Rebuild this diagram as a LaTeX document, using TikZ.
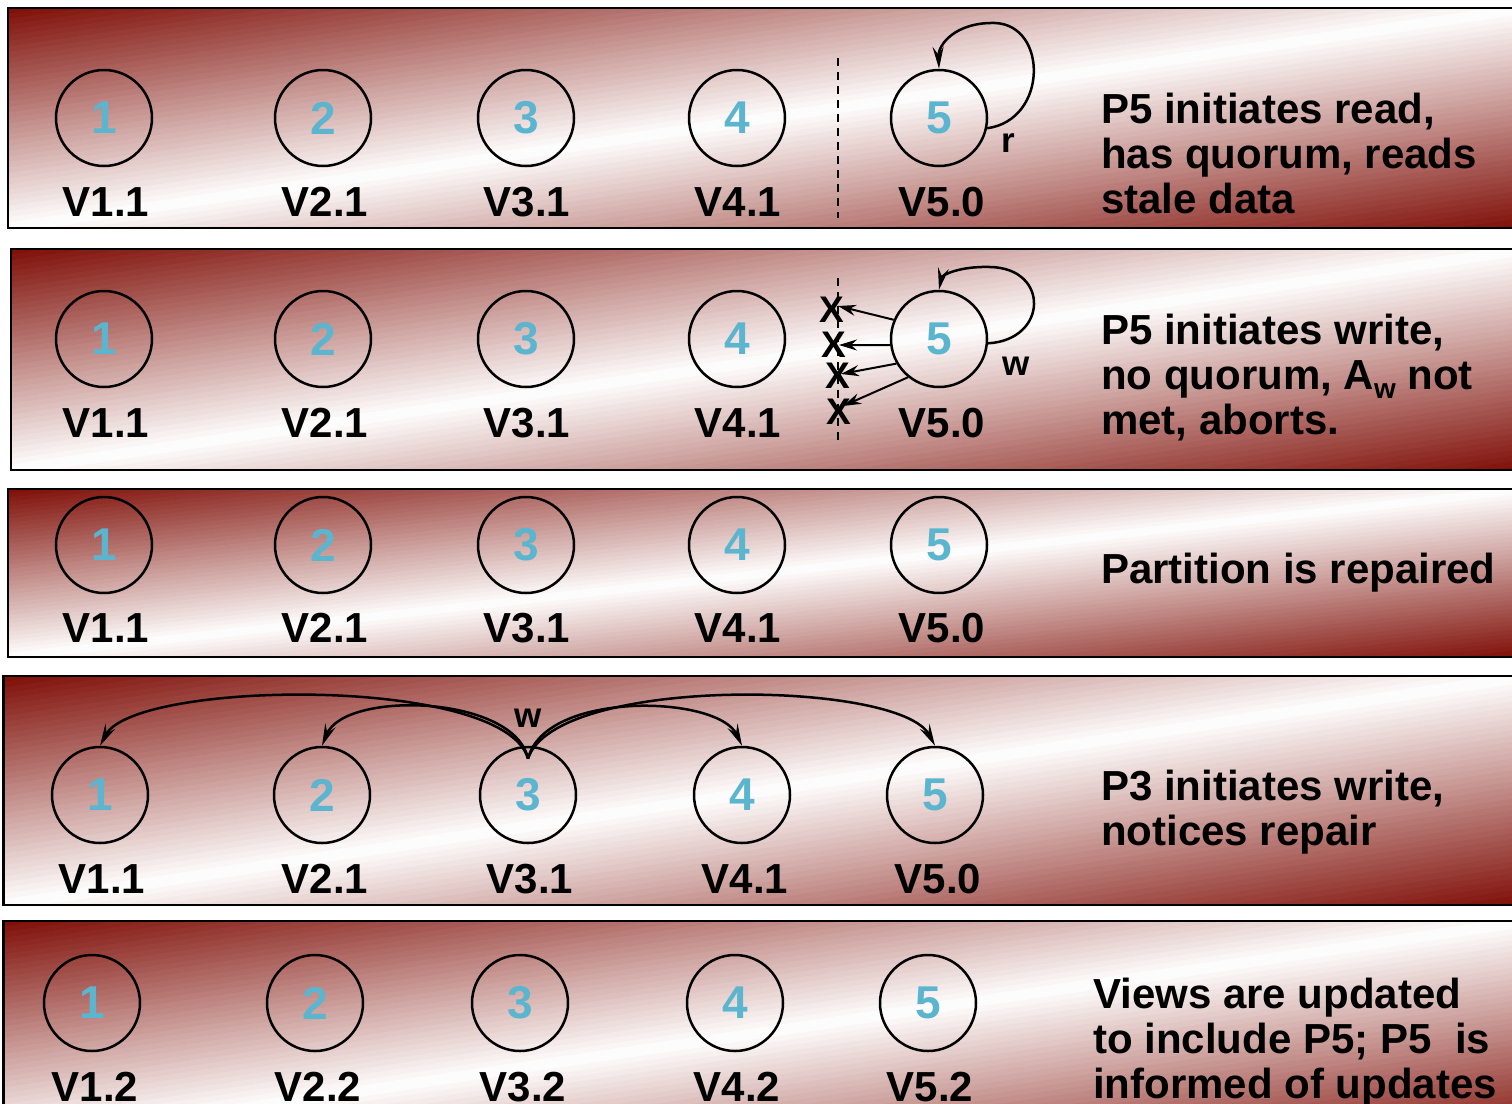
\documentclass[tikz,border=0pt]{standalone}
\usepackage{fontspec}
\setmainfont{Liberation Sans}
\usetikzlibrary{arrows.meta}
\definecolor{dred}{RGB}{126,14,6}
\definecolor{numblue}{RGB}{92,181,207}
\newcommand\numfont{\fontsize{46}{46}\selectfont\bfseries}
\newcommand\labfont{\fontsize{42}{42}\selectfont\bfseries}
\newcommand\capfont{\fontsize{42}{45}\selectfont\bfseries}
\newcommand\edgefont{\fontsize{35}{35}\selectfont\bfseries}
\newcommand\xfont{\fontsize{37}{37}\selectfont\bfseries}
% A framed band: dark red in the upper-left and lower-right corners,
% white along the diagonal from lower-left to upper-right.
% Arguments: left, top, right, bottom.
\newcommand\gradpanel[4]{%
  \begin{scope}
    \clip (#1,#2) rectangle (#3,#4);
    \foreach \k in {0,...,79} {
      \pgfmathsetmacro\sa{\k/40}
      \pgfmathsetmacro\sb{(\k+1.4)/40}
      \pgfmathsetmacro\mix{abs(1-(\k+0.5)/40)*100}
      \fill[dred!\mix!white]
        ({#1+(\sa+1)*(#3-#1)},{#2-(#4-#2)}) --
        ({#1+(\sb+1)*(#3-#1)},{#2-(#4-#2)}) --
        ({#1+(\sb-2)*(#3-#1)},{#2+2*(#4-#2)}) --
        ({#1+(\sa-2)*(#3-#1)},{#2+2*(#4-#2)}) -- cycle;
    }
  \end{scope}
  \draw[line width=2.5pt] (#1,#2) rectangle (#3,#4);
}
% digit inside a process circle, set a little below the centre
\newcommand\pid[1]{\raisebox{-2pt}{#1}}
\begin{document}
\begin{tikzpicture}[x=1pt,y=-1pt,
  proc/.style={circle, draw, line width=2.5pt, minimum size=96pt, inner sep=0pt,
    text=numblue, font=\numfont},
  vlab/.style={anchor=base, font=\labfont, inner sep=0pt},
  caption/.style={anchor=base west, align=left, font=\capfont, inner sep=0pt},
  msg/.style={line width=2.5pt, -{Stealth[length=22pt,width=11pt,inset=8pt]}},
  lost/.style={line width=2pt, -{Stealth[length=18pt,width=11pt,inset=6pt]}},
  cut/.style={line width=2pt, dash pattern=on 8pt off 6pt},
  elab/.style={font=\edgefont, inner sep=0pt},
  xmark/.style={font=\xfont, inner sep=0pt}
]
\useasboundingbox (0,0) rectangle (1512,1103);

% ---------- background bands ----------
\gradpanel{8}{8}{1530}{228}
\gradpanel{11}{249}{1530}{470}
\gradpanel{8}{489}{1530}{657}
\gradpanel{3.5}{676}{1530}{905}
\gradpanel{3.5}{921}{1530}{1143}

% ---------- row 1: stale read ----------
\foreach \i/\x in {1/104,2/323,3/526,4/737,5/939}
  \node[proc] (a\i) at (\x,118) {\pid{\i}};
\foreach \i/\x/\v in {1/106/1,2/325/1,3/527/1,4/738/1,5/942/0}
  \node[vlab] (va\i) at (\x,216) {V\i.\v};
\draw[cut] (838,58) -- (838,218);
\draw[msg] (a5.-12) .. controls (1048,120) and (1048,25) .. (995,23)
  .. controls (955,22) and (938,45) .. (a5.north);
\node[elab] (ra) at (1008,143) {r};
\node[caption] (ca) at (1101,213) {P5 initiates read,\\has quorum, reads\\stale data};

% ---------- row 2: failed write ----------
\foreach \i/\x in {1/104,2/323,3/526,4/737,5/939}
  \node[proc] (b\i) at (\x,339) {\pid{\i}};
\foreach \i/\x/\v in {1/106/1,2/325/1,3/527/1,4/738/1,5/942/0}
  \node[vlab] (vb\i) at (\x,437) {V\i.\v};
\draw[cut] (838,278) -- (838,440);
\node[xmark] (x1) at (832,310) {X};
\node[xmark] (x2) at (834,345) {X};
\node[xmark] (x3) at (838,376) {X};
\node[xmark] (x4) at (839,412) {X};
\coordinate (t1) at (838,306);
\coordinate (t2) at (839,345);
\coordinate (t3) at (841,374);
\coordinate (t4) at (843,406);
\draw[lost] (b5.157) -- (t1);
\draw[lost] (b5.187) -- (t2);
\draw[lost] (b5.210) -- (t3);
\draw[lost] (b5.231) -- (t4);
\draw[msg] (b5.-5) .. controls (1048,340) and (1050,268) .. (990,267)
  .. controls (960,266) and (942,275) .. (b5.north);
\node[elab] (wb) at (1016,366) {w};
\node[caption] (cb) at (1101,434) {P5 initiates write,\\no quorum,
  A\raisebox{-9pt}{\fontsize{28}{28}\selectfont w} not\\met, aborts.};

% ---------- row 3: repaired ----------
\foreach \i/\x in {1/104,2/323,3/526,4/737,5/939}
  \node[proc] (c\i) at (\x,545) {\pid{\i}};
\foreach \i/\x/\v in {1/106/1,2/325/1,3/527/1,4/738/1,5/942/0}
  \node[vlab] (vc\i) at (\x,642) {V\i.\v};
\node[caption] (cc) at (1101,583) {Partition is repaired};

% ---------- row 4: write after repair ----------
\foreach \i/\x in {1/100,2/322,3/528,4/742,5/935}
  \node[proc] (d\i) at (\x,795) {\pid{\i}};
\foreach \i/\x/\v in {1/102/1,2/325/1,3/530/1,4/745/1,5/938/0}
  \node[vlab] (vd\i) at (\x,893) {V\i.\v};
\draw[msg] ([yshift=-13pt]d3.north) .. controls (505,675) and (135,680) .. (d1.north);
\draw[msg] ([yshift=-13pt]d3.north) .. controls (515,695) and (345,690) .. (d2.north);
\draw[msg] ([yshift=-13pt]d3.north) .. controls (545,690) and (718,695) .. (d4.north);
\draw[msg] ([yshift=-13pt]d3.north) .. controls (555,675) and (900,680) .. (d5.north);
\node[elab] (wd) at (528,718) {w};
\node[caption] (cd) at (1101,845) {P3 initiates write,\\notices repair};

% ---------- row 5: views updated ----------
\foreach \i/\x in {1/92,2/315,3/520,4/735,5/928}
  \node[proc] (e\i) at (\x,1003) {\pid{\i}};
\foreach \i/\x in {1/95,2/318,3/523,4/737,5/930}
  \node[vlab] (ve\i) at (\x,1101) {V\i.2};
\node[caption] (ce) at (1093,1098) {Views are updated\\to include P5; P5\hspace{12pt} is\\informed of updates};
\end{tikzpicture}
\end{document}
